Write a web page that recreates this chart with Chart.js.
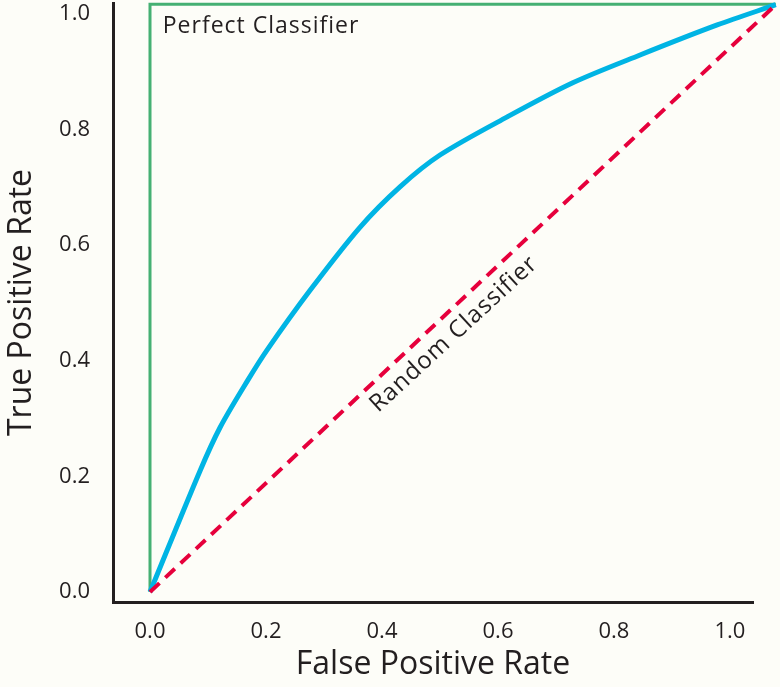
<!DOCTYPE html>
<html>
<head>
<meta charset="utf-8">
<script src="https://cdn.jsdelivr.net/npm/chart.js@4.4.1/dist/chart.umd.min.js"></script>
<style>
  html, body { margin: 0; padding: 0; background: #fdfdf8; }
  #wrap { width: 780px; height: 687px; }
</style>
</head>
<body>
<div id="wrap"><canvas id="rocChart" width="780" height="687"></canvas></div>
<script>
// tick labels
const tickVals = [0, 0.2, 0.4, 0.6, 0.8, 1.0];

// ROC curve
const rocFpr = [0, 0.086, 0.121, 0.169, 0.202, 0.276, 0.362, 0.431, 0.5, 0.616, 0.729, 0.845, 0.978, 1.079];
const rocTpr = [0, 0.209, 0.285, 0.367, 0.419, 0.522, 0.631, 0.701, 0.756, 0.822, 0.881, 0.929, 0.981, 1.016];

// perfect classifier
const perfectFpr = [0, 0, 1.079];
const perfectTpr = [0, 1.017, 1.017];

// random classifier
const randomFpr = [0, 1.079];
const randomTpr = [0, 1.016];

const toPoints = (xs, ys) => xs.map((x, i) => ({ x: x, y: ys[i] }));

const ink = "#231f20";
const fontFam = "'Open Sans', 'DejaVu Sans', sans-serif";

// text labels on the plot
const labelPlugin = {
  id: "labels",
  afterDatasetsDraw(chart) {
    const ctx = chart.ctx;
    const xs = chart.scales.x;
    const ys = chart.scales.y;
    ctx.save();
    ctx.fillStyle = ink;
    ctx.font = "23px " + fontFam;
    ctx.letterSpacing = "1px";
    ctx.textBaseline = "alphabetic";
    ctx.textAlign = "left";
    ctx.fillText("Perfect Classifier", xs.getPixelForValue(0.022), ys.getPixelForValue(0.967));

    ctx.translate(xs.getPixelForValue(0.524), ys.getPixelForValue(0.446));
    ctx.rotate(-42.6 * Math.PI / 180);
    ctx.font = "24px " + fontFam;
    ctx.textAlign = "center";
    ctx.textBaseline = "middle";
    ctx.fillText("Random Classifier", 0, 0);
    ctx.restore();
  }
};

const setTicks = (scale) => {
  scale.ticks = tickVals.map((v) => ({ value: v }));
};

const ctx = document.getElementById("rocChart").getContext("2d");

const config = {
  type: "line",
  data: {
    datasets: [
      {
        label: "Random Classifier",
        data: toPoints(randomFpr, randomTpr),
        borderColor: "#e6003c",
        borderWidth: 4,
        borderDash: [13, 8],
        pointRadius: 0,
        clip: false,
      },
      {
        label: "ROC",
        data: toPoints(rocFpr, rocTpr),
        borderColor: "#00b4e4",
        borderWidth: 5,
        tension: 0.3,
        pointRadius: 0,
        clip: false,
      },
      {
        label: "Perfect Classifier",
        data: toPoints(perfectFpr, perfectTpr),
        borderColor: "#45b073",
        borderWidth: 3,
        pointRadius: 0,
        clip: false,
      },
    ],
  },
  options: {
    responsive: false,
    animation: false,
    layout: { padding: { left: 0, right: 27, top: 3, bottom: 0 } },
    plugins: {
      legend: { display: false },
      tooltip: { enabled: false },
    },
    scales: {
      x: {
        type: "linear",
        min: -0.0638,
        max: 1.0397,
        afterBuildTicks: setTicks,
        afterFit: (scale) => {
          scale.height = 85;
          scale.paddingLeft = 0;
          scale.paddingRight = 0;
        },
        grid: { display: false, drawTicks: false },
        border: { display: true, color: ink, width: 3 },
        ticks: {
          color: ink,
          padding: 17,
          font: { family: fontFam, size: 22 },
          callback: (v) => Number(v).toFixed(1),
        },
        title: {
          display: true,
          text: "False Positive Rate",
          color: ink,
          font: { family: fontFam, size: 32 },
          padding: { top: 0, bottom: 3 },
        },
      },
      y: {
        type: "linear",
        min: -0.0173,
        max: 1.019,
        afterBuildTicks: setTicks,
        afterFit: (scale) => {
          scale.width = 113;
          scale.paddingTop = 0;
          scale.paddingBottom = 0;
        },
        grid: { display: false, drawTicks: false },
        border: { display: true, color: ink, width: 3 },
        ticks: {
          color: ink,
          padding: 23,
          font: { family: fontFam, size: 22 },
          callback: (v) => Number(v).toFixed(1),
        },
        title: {
          display: true,
          text: "True Positive Rate",
          color: ink,
          font: { family: fontFam, size: 32 },
          padding: { top: 3, bottom: 0 },
        },
      },
    },
  },
  plugins: [labelPlugin],
};

const rocChart = new Chart(ctx, config);
</script>
</body>
</html>
